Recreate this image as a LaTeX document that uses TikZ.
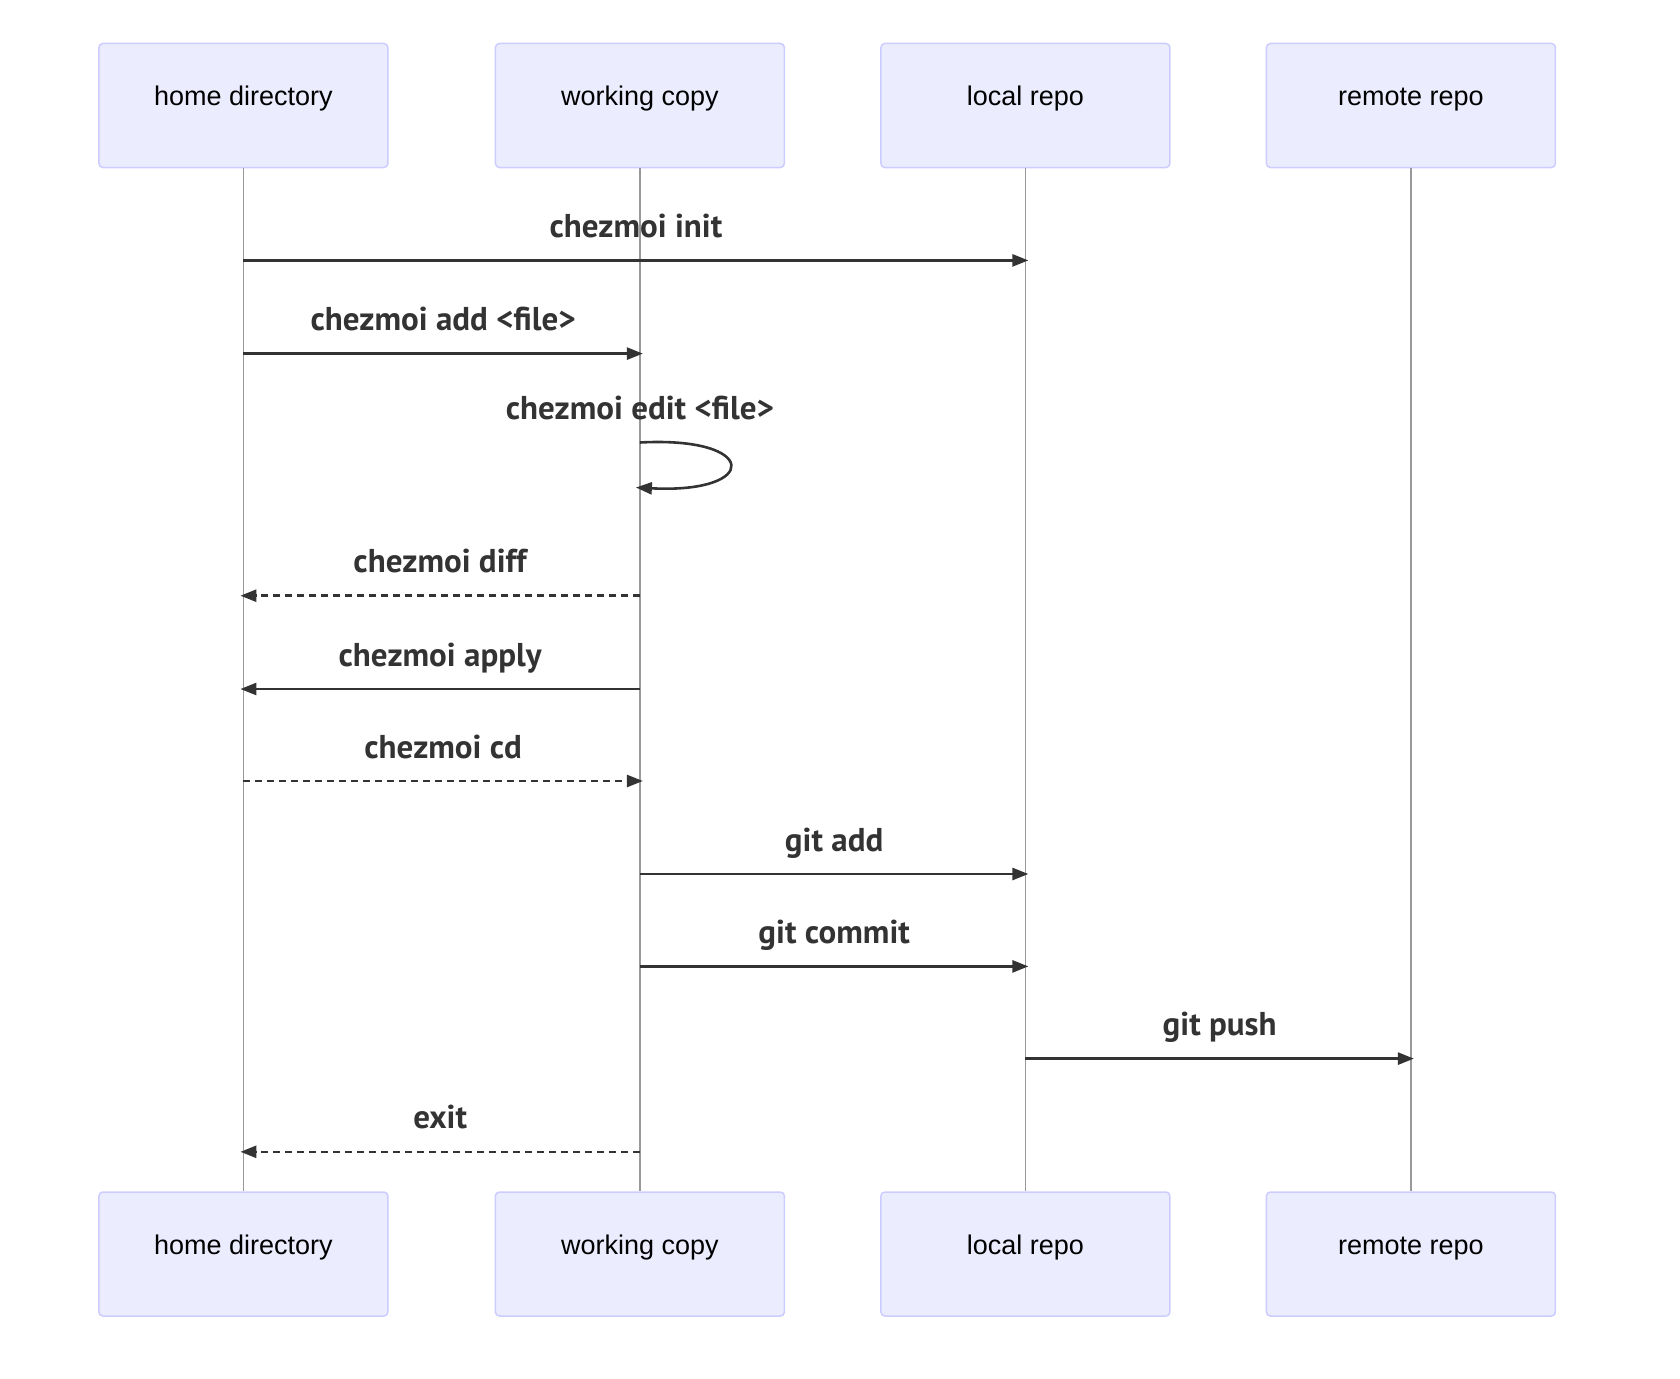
\documentclass[tikz,border=0pt]{standalone}
\usepackage{fontspec}
\setmainfont{Liberation Sans}
\newfontfamily\msgfont{PT Sans}
\usetikzlibrary{arrows.meta,positioning,calc}
\definecolor{actorfill}{HTML}{ECECFF}
\definecolor{actorline}{HTML}{CCCCFF}
\definecolor{msgdark}{HTML}{333333}
\definecolor{lifegray}{HTML}{999999}

\begin{document}
\begin{tikzpicture}[x=1pt, y=-1pt,
        actor/.style={draw=actorline, line width=1.5pt, fill=actorfill, rounded corners=4pt,
                      minimum width=289pt, minimum height=124pt, inner sep=0pt,
                      text height=20pt, text depth=19pt, font=\fontsize{27}{32}\selectfont},
        life/.style={draw=lifegray, line width=1.2pt},
        msg/.style={-{Triangle[length=16pt, width=12pt]}, line width=2.6pt, msgdark},
        reply/.style={msg, dash pattern=on 7pt off 5pt},
        lbl/.style={font=\msgfont\bfseries\fontsize{33}{36}\selectfont, text=msgdark,
                    yshift=31pt, text height=23pt, text depth=7pt, inner sep=0pt}]
        \useasboundingbox (0,0) rectangle (1680,1378);
        % actors, top row
        \node[actor] (hdT) at (243.4,105.5) {home directory};
        \node[actor, right=106pt of hdT] (wcT) {working copy};
        \node[actor, right=95pt of wcT] (lrT) {local repo};
        \node[actor, right=95pt of lrT] (rrT) {remote repo};
        % actors, bottom row
        \node[actor, below=1023pt of hdT] (hdB) {home directory};
        \node[actor, below=1023pt of wcT] (wcB) {working copy};
        \node[actor, below=1023pt of lrT] (lrB) {local repo};
        \node[actor, below=1023pt of rrT] (rrB) {remote repo};
        % lifelines
        \foreach \a in {hd, wc, lr, rr}
          \draw[life] (\a T) -- (\a B);
        % messages
        \draw[msg] (hdT |- 0,260.4) -- node[lbl] {chezmoi init} ($(lrT |- 0,260.4)+(3,0)$);
        \draw[msg] (hdT |- 0,353.6) -- node[lbl] {chezmoi add <file>} ($(wcT |- 0,353.6)+(3,0)$);
        \coordinate (eA) at (wcT |- 0,442.5);
        \coordinate (eB) at ($(wcT |- 0,487.5)+(-4,0)$);
        \node[lbl] (edit) at (wcT |- 0,442.4) {chezmoi edit <file>};
        \draw[msg] (eA) .. controls (760,436) and (760,494) .. (eB);
        \draw[reply] (wcT |- 0,595.7) -- node[lbl] {chezmoi diff} ($(hdT |- 0,595.7)+(-3,0)$);
        \draw[msg] (wcT |- 0,689) -- node[lbl] {chezmoi apply} ($(hdT |- 0,689)+(-3,0)$);
        \draw[reply] (hdT |- 0,781) -- node[lbl] {chezmoi cd} ($(wcT |- 0,781)+(3,0)$);
        \draw[msg] (wcT |- 0,874) -- node[lbl] {git add} ($(lrT |- 0,874)+(3,0)$);
        \draw[msg] (wcT |- 0,966.4) -- node[lbl] {git commit} ($(lrT |- 0,966.4)+(3,0)$);
        \draw[msg] (lrT |- 0,1058.6) -- node[lbl] {git push} ($(rrT |- 0,1058.6)+(3,0)$);
        \draw[reply] (wcT |- 0,1151.8) -- node[lbl] {exit} ($(hdT |- 0,1151.8)+(-3,0)$);
      \end{tikzpicture}
\end{document}
